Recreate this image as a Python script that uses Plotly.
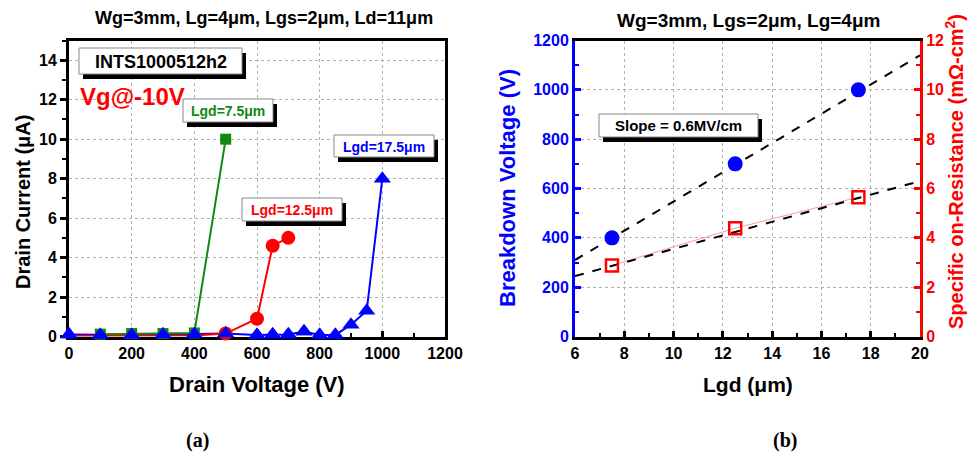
import plotly.graph_objects as go

W, H = 968, 453

# ---------- Panel (a) data ----------
v_75 = [100, 200, 300, 400, 500]
i_75 = [0.12, 0.15, 0.15, 0.18, 10.0]
v_125 = [0, 100, 200, 300, 400, 500, 600, 650, 700]
i_125 = [0.03, 0.03, 0.03, 0.03, 0.05, 0.15, 0.9, 4.6, 5.0]
v_175 = [0, 100, 200, 300, 400, 500, 600, 650, 700, 750, 800, 850, 900, 950, 1000]
i_175 = [0.1, 0.08, 0.08, 0.1, 0.12, 0.15, 0.08, 0.1, 0.1, 0.25, 0.08, 0.08, 0.6, 1.3, 8.0]

# ---------- Panel (b) data ----------
lgd = [7.5, 12.5, 17.5]
bv = [400, 700, 1000]
ron = [2.88, 4.39, 5.65]
fit_x = [6, 20]
fit_bv = [310, 1140]
fit_ron = [2.45, 6.3]

xa_ticks = [0, 200, 400, 600, 800, 1000, 1200]
ya_ticks = [0, 2, 4, 6, 8, 10, 12, 14]
xb_ticks = [6, 8, 10, 12, 14, 16, 18, 20]
yb_ticks = [0, 200, 400, 600, 800, 1000, 1200]
yr_ticks = [0, 2, 4, 6, 8, 10, 12]

FONT = "Liberation Sans"
def px(x): return x / W
def py(y): return 1 - y / H

GREEN = "#118811"
RED = "#ff0000"
BLUE = "#0000ff"

fig = go.Figure()

fig.add_trace(go.Scatter(x=v_175, y=i_175, mode="lines+markers", xaxis="x", yaxis="y",
                         line=dict(color=BLUE, width=2),
                         marker=dict(symbol="triangle-up", size=15, color=BLUE),
                         cliponaxis=False, showlegend=False))
fig.add_trace(go.Scatter(x=v_125, y=i_125, mode="lines", xaxis="x", yaxis="y",
                         line=dict(color=RED, width=2), showlegend=False, cliponaxis=False))
fig.add_trace(go.Scatter(x=v_125[5:], y=i_125[5:], mode="markers", xaxis="x", yaxis="y",
                         marker=dict(symbol="circle", size=14, color=RED),
                         cliponaxis=False, showlegend=False))
fig.add_trace(go.Scatter(x=v_75, y=i_75, mode="lines+markers", xaxis="x", yaxis="y",
                         line=dict(color=GREEN, width=2),
                         marker=dict(symbol="square", size=11, color=GREEN),
                         cliponaxis=False, showlegend=False))
# re-draw blue markers on top at low values
fig.add_trace(go.Scatter(x=v_175[:12], y=i_175[:12], mode="markers", xaxis="x", yaxis="y",
                         marker=dict(symbol="triangle-up", size=15, color=BLUE),
                         cliponaxis=False, showlegend=False))

# panel b
fig.add_trace(go.Scatter(x=fit_x, y=fit_bv, mode="lines", xaxis="x2", yaxis="y2",
                         line=dict(color="black", width=2, dash="dash"), showlegend=False))
fig.add_trace(go.Scatter(x=lgd, y=bv, mode="markers", xaxis="x2", yaxis="y2",
                         marker=dict(symbol="circle", size=15, color=BLUE), showlegend=False))
fig.add_trace(go.Scatter(x=lgd, y=ron, mode="lines", xaxis="x2", yaxis="y3",
                         line=dict(color="#ff9999", width=1), showlegend=False))
fig.add_trace(go.Scatter(x=fit_x, y=fit_ron, mode="lines", xaxis="x2", yaxis="y3",
                         line=dict(color="black", width=2, dash="dash"), showlegend=False))
fig.add_trace(go.Scatter(x=lgd, y=ron, mode="markers", xaxis="x2", yaxis="y3",
                         marker=dict(symbol="square-open", size=12, color=RED, line=dict(width=2.5)),
                         showlegend=False))

ydom = [py(336.5), py(40.5)]
tickfont = dict(family=FONT, size=16, color="black", weight="bold")
grid = dict(showgrid=True, gridcolor="#b0b0b0", griddash="dot", gridwidth=1)

fig.update_layout(
    width=W, height=H, margin=dict(l=0, r=0, t=0, b=0, autoexpand=False),
    paper_bgcolor="white", plot_bgcolor="white",
    font=dict(family=FONT),
    xaxis=dict(domain=[px(69), px(445)], range=[0, 1200], tickvals=xa_ticks, automargin=False,
               ticks="inside", ticklen=6, tickwidth=3, tickcolor="black",
               minor=dict(ticks="inside", ticklen=4, tickwidth=2, dtick=100, tickcolor="black", showgrid=False),
               showline=True, linewidth=3, linecolor="black", mirror=True,
               tickfont=tickfont, zeroline=False, layer="below traces", **grid),
    yaxis=dict(domain=ydom, range=[0, 15], tickvals=ya_ticks, automargin=False,
               ticks="outside", ticklen=6, tickwidth=3, tickcolor="black",
               minor=dict(ticks="outside", ticklen=4, tickwidth=2, dtick=1, tickcolor="black", showgrid=False),
               showline=True, linewidth=3, linecolor="black", mirror=True,
               tickfont=tickfont, zeroline=False, layer="below traces", anchor="x", **grid),
    xaxis2=dict(domain=[px(575), px(920)], range=[6, 20], tickvals=xb_ticks, anchor="y2", automargin=False,
                ticks="inside", ticklen=6, tickwidth=3, tickcolor="black",
                minor=dict(ticks="inside", ticklen=4, tickwidth=2, dtick=1, tickcolor="black", showgrid=False),
                showline=True, linewidth=3, linecolor="black", mirror=True,
                tickfont=tickfont, zeroline=False, layer="below traces", **grid),
    yaxis2=dict(domain=ydom, range=[0, 1200], tickvals=yb_ticks, anchor="x2", automargin=False,
                ticks="inside", ticklen=6, tickwidth=3, tickcolor=BLUE,
                minor=dict(ticks="inside", ticklen=4, tickwidth=2, dtick=100, tickcolor=BLUE, showgrid=False),
                showline=True, linewidth=3, linecolor=BLUE,
                tickfont=dict(family=FONT, size=16, color=BLUE, weight="bold"),
                zeroline=False, layer="below traces", **grid),
    yaxis3=dict(domain=ydom, range=[0, 12], tickvals=yr_ticks, anchor="x2", overlaying="y2", side="right",
                automargin=False,
                ticks="inside", ticklen=6, tickwidth=3, tickcolor=RED,
                minor=dict(ticks="inside", ticklen=4, tickwidth=2, dtick=1, tickcolor=RED, showgrid=False),
                showline=True, linewidth=3, linecolor=RED, showgrid=False,
                tickfont=dict(family=FONT, size=16, color=RED, weight="bold"),
                zeroline=False, layer="below traces"),
)

ann = []
shapes = []
def text(x, y, t, size, color="black", angle=0, family=FONT, weight="bold"):
    ann.append(dict(x=px(x), y=py(y), xref="paper", yref="paper", text=t, showarrow=False,
                    textangle=angle, xanchor="center", yanchor="middle",
                    font=dict(family=family, size=size, color=color, weight=weight)))

def box(x0, y0, x1, y1, t, size, color, sx=4, sy=5):
    shapes.append(dict(type="rect", xref="paper", yref="paper",
                       x0=px(x0 + sx), x1=px(x1 + sx), y0=py(y1 + sy), y1=py(y0 + sy),
                       fillcolor="black", line=dict(width=0), layer="above"))
    shapes.append(dict(type="rect", xref="paper", yref="paper",
                       x0=px(x0), x1=px(x1), y0=py(y1), y1=py(y0),
                       fillcolor="white", line=dict(width=1, color="#888888"), layer="above"))
    text((x0 + x1) / 2, (y0 + y1) / 2 + 0.5, t, size, color=color)

text(264, 18, "Wg=3mm, Lg=4μm, Lgs=2μm, Ld=11μm", 18)
text(748, 20, "Wg=3mm, Lgs=2μm, Lg=4μm", 19)
text(23, 202, "Drain Current (μA)", 20, angle=-90)
text(257, 384, "Drain Voltage (V)", 22)
text(507, 188, "Breakdown Voltage (V)", 22, color=BLUE, angle=-90)
text(748, 384, "Lgd (μm)", 21)
text(955, 172, "Specific on-Resistance (mΩ-cm<sup>2</sup>)", 20, color=RED, angle=-90)
text(132, 97, "Vg@-10V", 24, color=RED)
text(197, 440, "(a)", 20, family="Liberation Serif")
text(785, 440, "(b)", 20, family="Liberation Serif")

box(79, 48, 242, 74, "INTS1000512h2", 18, "black")
box(183, 99, 273, 122, "Lgd=7.5μm", 14, GREEN)
box(334, 135, 434, 157, "Lgd=17.5μm", 14, BLUE)
box(242, 198, 342, 221, "Lgd=12.5μm", 14, RED)
box(599, 114, 758, 137, "Slope = 0.6MV/cm", 15, "black")

fig.update_layout(annotations=ann, shapes=shapes)
fig.write_html("out.html")
